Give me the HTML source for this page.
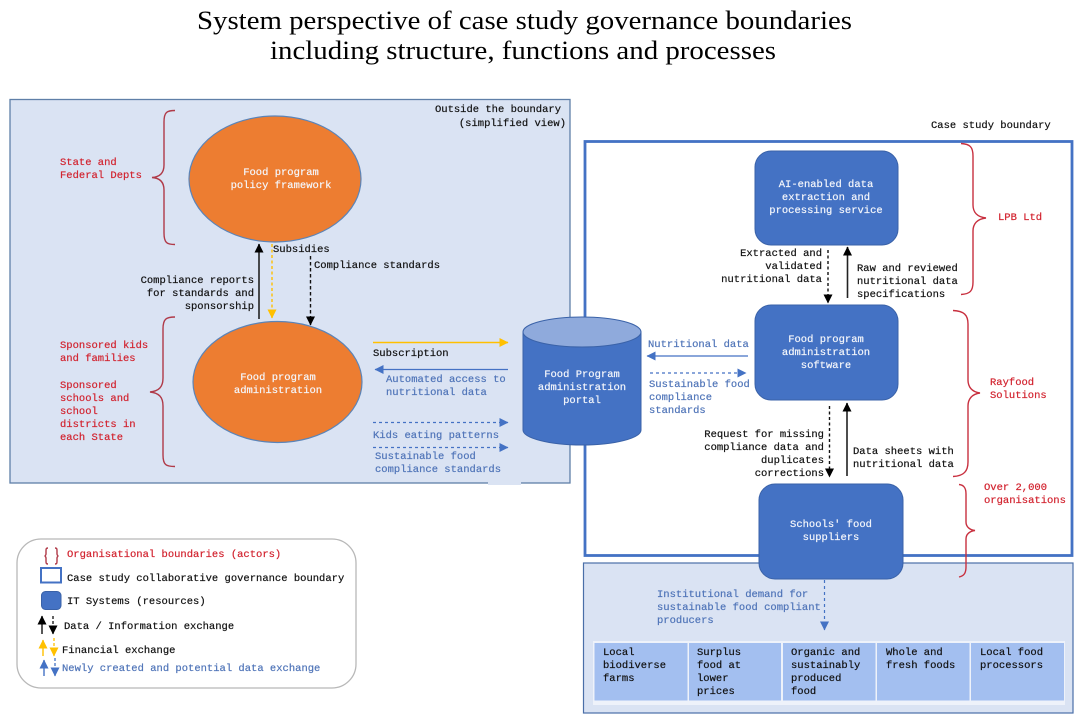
<!DOCTYPE html>
<html lang="en">
<head>
<meta charset="utf-8">
<title>System perspective of case study governance boundaries</title>
<style>
html,body{margin:0;padding:0;background:#fff}
svg{display:block;filter:blur(.35px)}
text{font-family:"Liberation Mono",monospace;font-size:10.5px;fill:#111;stroke:#111;stroke-width:.2px;white-space:pre}
.t{font-family:"Liberation Serif",serif;font-size:26px;fill:#000;stroke:none}
.w{fill:#f4f6fb;stroke:#f4f6fb;text-anchor:middle}
.r{fill:#d2232f;stroke:#d2232f}
.b{fill:#4f74b8;stroke:#4f74b8}
.e{text-anchor:end}
.br{fill:none;stroke:#b03a48;stroke-width:1.4}
</style>
</head>
<body>
<svg width="1084" height="719" viewBox="0 0 1084 719" xmlns="http://www.w3.org/2000/svg">
<defs>
<marker id="k" markerWidth="9" markerHeight="9" refX="8.500" refY="4.500" orient="auto" markerUnits="userSpaceOnUse"><path d="M0 0L9 4.500L0 9Z" fill="#000"/></marker>
<marker id="y" markerWidth="9" markerHeight="9" refX="8.500" refY="4.500" orient="auto" markerUnits="userSpaceOnUse"><path d="M0 0L9 4.500L0 9Z" fill="#ffc000"/></marker>
<marker id="l" markerWidth="9" markerHeight="9" refX="8.500" refY="4.500" orient="auto" markerUnits="userSpaceOnUse"><path d="M0 0L9 4.500L0 9Z" fill="#4472c4"/></marker>
</defs>

<text class="t" x="197" y="29" textLength="655" lengthAdjust="spacingAndGlyphs">System perspective of case study governance boundaries</text>
<text class="t" x="270" y="59" textLength="506" lengthAdjust="spacingAndGlyphs">including structure, functions and processes</text>

<!-- left panel -->
<rect x="10" y="99.5" width="560" height="383.5" fill="#dae3f3" stroke="#5f7fa8" stroke-width="1.3"/>
<rect x="488" y="481" width="33" height="4" fill="#dae3f3"/>
<text class="e" x="561" y="112">Outside the boundary</text>
<text class="e" x="566" y="126">(simplified view)</text>

<ellipse cx="275" cy="179" rx="86" ry="63" fill="#ed7d31" stroke="#5b84b8" stroke-width="1.2"/>
<ellipse cx="277.5" cy="382" rx="84.5" ry="60.5" fill="#ed7d31" stroke="#5b84b8" stroke-width="1.2"/>
<text class="w" x="281" y="175">Food program</text>
<text class="w" x="281" y="188">policy framework</text>
<text class="w" x="278" y="380">Food program</text>
<text class="w" x="278" y="393">administration</text>

<path class="br" d="M175 110.500C167 110.500 164 112 164 122L164 165C164 173 160 177 152 177.500C160 178 164 182 164 190L164 233C164 243 167 244.500 175 244.500"/>
<path class="br" d="M175 317C166 317 163 319 163 329L163 378C163 387 159 391 150 392C159 393 163 397 163 406L163 455C163 465 166 466.500 175 466.500"/>

<text class="r" x="60" y="165">State and</text>
<text class="r" x="60" y="178">Federal Depts</text>
<text class="r" x="60" y="348">Sponsored kids</text>
<text class="r" x="60" y="361">and families</text>
<text class="r" x="60" y="388">Sponsored</text>
<text class="r" x="60" y="401">schools and</text>
<text class="r" x="60" y="414">school</text>
<text class="r" x="60" y="427">districts in</text>
<text class="r" x="60" y="440">each State</text>

<line x1="259" y1="319" x2="259" y2="244" stroke="#222" stroke-width="1.6" marker-end="url(#k)"/>
<line x1="272" y1="244" x2="272" y2="318" stroke="#ffc000" stroke-width="1.4" stroke-dasharray="3 2.500" marker-end="url(#y)"/>
<line x1="310.500" y1="256" x2="310.500" y2="325" stroke="#111" stroke-width="1.4" stroke-dasharray="3.500 2.500" marker-end="url(#k)"/>
<text x="273" y="252">Subsidies</text>
<text x="314" y="268">Compliance standards</text>
<text class="e" x="254" y="283">Compliance reports</text>
<text class="e" x="254" y="296">for standards and</text>
<text class="e" x="254" y="309">sponsorship</text>

<line x1="373" y1="342.500" x2="508" y2="342.500" stroke="#ffc000" stroke-width="1.5" marker-end="url(#y)"/>
<text x="373" y="356">Subscription</text>
<line x1="508" y1="369.500" x2="375" y2="369.500" stroke="#4472c4" stroke-width="1.3" marker-end="url(#l)"/>
<text class="b" x="386" y="382">Automated access to</text>
<text class="b" x="386" y="395">nutritional data</text>
<line x1="373" y1="422.500" x2="508" y2="422.500" stroke="#4472c4" stroke-width="1.2" stroke-dasharray="3 3" marker-end="url(#l)"/>
<text class="b" x="373" y="438">Kids eating patterns</text>
<line x1="373" y1="447.500" x2="508" y2="447.500" stroke="#4472c4" stroke-width="1.2" stroke-dasharray="3 3" marker-end="url(#l)"/>
<text class="b" x="375" y="459">Sustainable food</text>
<text class="b" x="375" y="472">compliance standards</text>

<!-- case study boundary -->
<rect x="585" y="141.500" width="487" height="414" fill="none" stroke="#4472c4" stroke-width="2.800"/>
<text x="931" y="128">Case study boundary</text>

<!-- cylinder -->
<path d="M523 332L523 430C523 438 549 445 582 445C615 445 641 438 641 430L641 332Z" fill="#4472c4" stroke="#3a62a8" stroke-width="1"/>
<ellipse cx="582" cy="332" rx="59" ry="15" fill="#8faadc" stroke="#3a62a8" stroke-width="1"/>
<text class="w" x="582" y="377">Food Program</text>
<text class="w" x="582" y="390">administration</text>
<text class="w" x="582" y="403">portal</text>

<text class="b" x="648" y="347">Nutritional data</text>
<line x1="748" y1="356" x2="647" y2="356" stroke="#4472c4" stroke-width="1.3" marker-end="url(#l)"/>
<line x1="650" y1="373" x2="746" y2="373" stroke="#4472c4" stroke-width="1.2" stroke-dasharray="3 3" marker-end="url(#l)"/>
<text class="b" x="649" y="387">Sustainable food</text>
<text class="b" x="649" y="400">compliance</text>
<text class="b" x="649" y="413">standards</text>

<!-- bottom panel -->
<rect x="583.500" y="563" width="489.500" height="150" fill="#dae3f3" stroke="#4a6fa8" stroke-width="1.200"/>
<rect x="593" y="641" width="472" height="64" fill="#eef2fa"/>
<g fill="#a3bff0">
<rect x="594.500" y="643" width="93" height="57.500"/>
<rect x="689" y="643" width="92" height="57.500"/>
<rect x="783" y="643" width="92.500" height="57.500"/>
<rect x="877" y="643" width="92.500" height="57.500"/>
<rect x="971" y="643" width="93" height="57.500"/>
</g>
<g style="font-weight:400">
<text x="603" y="655">Local</text><text x="603" y="668">biodiverse</text><text x="603" y="681">farms</text>
<text x="697" y="655">Surplus</text><text x="697" y="668">food at</text><text x="697" y="681">lower</text><text x="697" y="694">prices</text>
<text x="791" y="655">Organic and</text><text x="791" y="668">sustainably</text><text x="791" y="681">produced</text><text x="791" y="694">food</text>
<text x="886" y="655">Whole and</text><text x="886" y="668">fresh foods</text>
<text x="980" y="655">Local food</text><text x="980" y="668">processors</text>
</g>

<text class="b" x="657" y="597">Institutional demand for</text>
<text class="b" x="657" y="610">sustainable food compliant</text>
<text class="b" x="657" y="623">producers</text>
<line x1="824.500" y1="580" x2="824.500" y2="630" stroke="#4472c4" stroke-width="1.2" stroke-dasharray="3 3" marker-end="url(#l)"/>

<!-- right boxes -->
<g fill="#4472c4" stroke="#3a62a8" stroke-width="1">
<rect x="755" y="151" width="143" height="94" rx="16"/>
<rect x="755" y="305" width="143" height="95" rx="16"/>
<rect x="759" y="484" width="144" height="95" rx="16"/>
</g>
<text class="w" x="826" y="187">AI-enabled data</text>
<text class="w" x="826" y="200">extraction and</text>
<text class="w" x="826" y="213">processing service</text>
<text class="w" x="826" y="342">Food program</text>
<text class="w" x="826" y="355">administration</text>
<text class="w" x="826" y="368">software</text>
<text class="w" x="831" y="527">Schools' food</text>
<text class="w" x="831" y="540">suppliers</text>

<line x1="828" y1="250" x2="828" y2="303" stroke="#111" stroke-width="1.4" stroke-dasharray="3 2.500" marker-end="url(#k)"/>
<line x1="847.500" y1="298" x2="847.500" y2="247" stroke="#222" stroke-width="1.6" marker-end="url(#k)"/>
<text class="e" x="822" y="256">Extracted and</text>
<text class="e" x="822" y="269">validated</text>
<text class="e" x="822" y="282">nutritional data</text>
<text x="857" y="271">Raw and reviewed</text>
<text x="857" y="284">nutritional data</text>
<text x="857" y="297">specifications</text>

<line x1="829.500" y1="406" x2="829.500" y2="477" stroke="#111" stroke-width="1.4" stroke-dasharray="3 2.500" marker-end="url(#k)"/>
<line x1="847" y1="476" x2="847" y2="403" stroke="#222" stroke-width="1.6" marker-end="url(#k)"/>
<text class="e" x="824" y="437">Request for missing</text>
<text class="e" x="824" y="450">compliance data and</text>
<text class="e" x="824" y="463">duplicates</text>
<text class="e" x="824" y="476">corrections</text>
<text x="853" y="454">Data sheets with</text>
<text x="853" y="467">nutritional data</text>

<path class="br" style="stroke:#c8303f" d="M961 143.500C970 144 973 147 973 156L973 205C973 212 977 217 986 218C977 219 973 224 973 231L973 282C973 291 970 294 961 294.500"/>
<path class="br" style="stroke:#c8303f" d="M953 310.500C964 311 968 315 968 324L968 380C968 387 972 392 980 393C972 394 968 399 968 406L968 462C968 471 964 476 953 476.500"/>
<path class="br" style="stroke:#c8303f" d="M959 484.500C964 485 966 488 966 494L966 522C966 527 970 530 975 530.500C970 531 966 534 966 539L966 567C966 573 964 576 959 577"/>
<text class="r" x="998" y="220">LPB Ltd</text>
<text class="r" x="990" y="385">Rayfood</text>
<text class="r" x="990" y="398">Solutions</text>
<text class="r" x="984" y="490">Over 2,000</text>
<text class="r" x="984" y="503">organisations</text>

<!-- legend -->
<rect x="17" y="539" width="339" height="149" rx="24" fill="#fff" stroke="#b8b8b8" stroke-width="1.300"/>
<path class="br" d="M48 548C46 548 46 549 46 551L46 554C46 555 45 556 44.500 556C45 556 46 557 46 558L46 561C46 563 46 564 48 564"/>
<path class="br" d="M55 548C57 548 57 549 57 551L57 554C57 555 58 556 58.500 556C58 556 57 557 57 558L57 561C57 563 57 564 55 564"/>
<text class="r" x="67" y="557">Organisational boundaries (actors)</text>
<rect x="41" y="568" width="20" height="14.500" fill="#fff" stroke="#4472c4" stroke-width="2"/>
<text x="67" y="581">Case study collaborative governance boundary</text>
<rect x="41.500" y="591.500" width="19.500" height="18" rx="4" fill="#4472c4" stroke="#3a62a8"/>
<text x="67" y="604">IT Systems (resources)</text>
<line x1="42" y1="634" x2="42" y2="616" stroke="#111" stroke-width="1.400" marker-end="url(#k)"/>
<line x1="53" y1="616" x2="53" y2="634" stroke="#111" stroke-width="1.300" stroke-dasharray="3 2" marker-end="url(#k)"/>
<text x="64" y="629">Data / Information exchange</text>
<line x1="43" y1="656" x2="43" y2="640" stroke="#ffc000" stroke-width="1.400" marker-end="url(#y)"/>
<line x1="54" y1="638" x2="54" y2="656" stroke="#ffc000" stroke-width="1.300" stroke-dasharray="3 2" marker-end="url(#y)"/>
<text x="62" y="653">Financial exchange</text>
<line x1="44" y1="676" x2="44" y2="660" stroke="#4472c4" stroke-width="1.400" marker-end="url(#l)"/>
<line x1="55" y1="658" x2="55" y2="676" stroke="#4472c4" stroke-width="1.300" stroke-dasharray="3 2" marker-end="url(#l)"/>
<text class="b" x="62" y="671">Newly created and potential data exchange</text>
</svg>
</body>
</html>
